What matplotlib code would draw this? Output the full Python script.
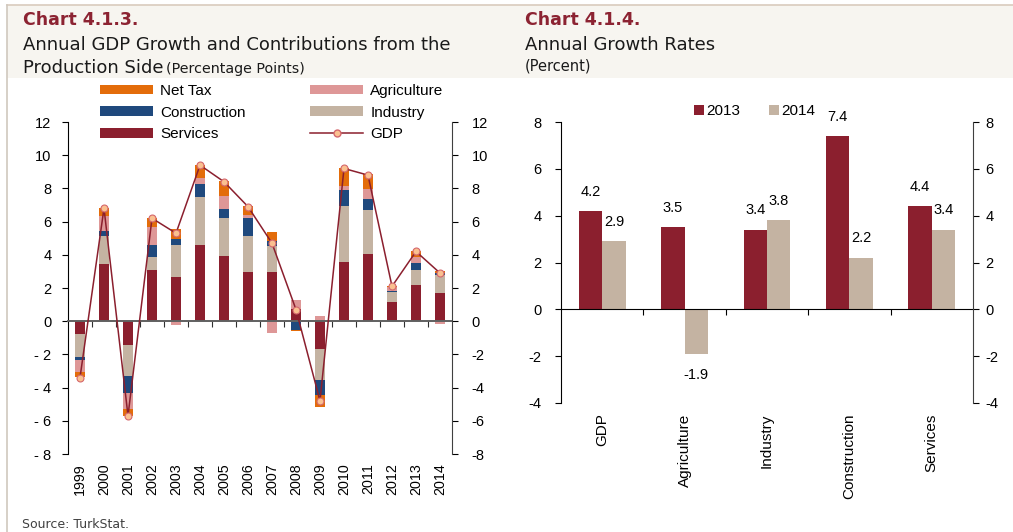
import matplotlib
matplotlib.use('Agg')
import matplotlib.pyplot as plt
from matplotlib.patches import Rectangle, Patch
from matplotlib.lines import Line2D
from matplotlib.ticker import FuncFormatter
import numpy as np

# ---- data: chart 4.1.3 (contributions to GDP growth, percentage points) ----
years = list(range(1999, 2015))
services = [-0.76, 3.42, -1.45, 3.11, 2.67, 4.62, 3.94, 2.96, 2.96, 0.76, -1.69, 3.54, 4.04, 1.17, 2.17, 1.67]
industry = [-1.41, 1.70, -1.87, 0.77, 1.91, 2.88, 2.29, 2.19, 1.56, -0.05, -1.87, 3.40, 2.65, 0.60, 0.94, 1.10]
construction = [-0.16, 0.31, -0.98, 0.70, 0.40, 0.76, 0.52, 1.08, 0.32, -0.45, -0.90, 0.96, 0.67, 0.03, 0.41, 0.14]
agriculture = [-0.74, 0.90, -0.98, 1.07, -0.25, 0.34, 0.79, 0.16, -0.70, 0.51, 0.32, 0.24, 0.58, 0.25, 0.36, -0.14]
net_tax = [-0.30, 0.47, -0.44, 0.54, 0.57, 0.83, 0.92, 0.55, 0.53, -0.07, -0.70, 1.06, 0.91, 0.10, 0.36, 0.12]
gdp = [-3.4, 6.8, -5.7, 6.2, 5.3, 9.4, 8.4, 6.9, 4.7, 0.7, -4.8, 9.2, 8.8, 2.1, 4.2, 2.9]

# ---- data: chart 4.1.4 (annual growth rates, percent) ----
sectors = ['GDP', 'Agriculture', 'Industry', 'Construction', 'Services']
growth_2013 = [4.2, 3.5, 3.4, 7.4, 4.4]
growth_2014 = [2.9, -1.9, 3.8, 2.2, 3.4]

# colours
MAROON = '#8B1F2E'
BEIGE = '#C4B3A2'
NAVY = '#1F497D'
PINK = '#DE9797'
ORANGE = '#E36C0A'
TITLE_RED = '#8C2332'

W, H = 1013, 532
def fx(px):
    return px / W
def fy(py):
    return 1 - py / H

plt.rcParams['font.family'] = ['Liberation Sans', 'DejaVu Sans']
plt.rcParams['axes.unicode_minus'] = False
fig = plt.figure(figsize=(W / 100, H / 100), dpi=100)
fig.patch.set_facecolor('white')

# title band and frame lines
fig.patches.append(Rectangle((fx(7), fy(78)), 1 - fx(7), fy(5) - fy(78),
                             transform=fig.transFigure, facecolor='#F7F5F0', edgecolor='none', zorder=0))
fig.add_artist(Line2D([fx(7), 1], [fy(5), fy(5)], color='#D9CBBD', lw=1.2))
fig.add_artist(Line2D([fx(7), fx(7)], [fy(5), 0], color='#D0C8BE', lw=1.2))

tfont = 'DejaVu Sans'
fig.text(fx(23), fy(20), 'Chart 4.1.3.', family=tfont, weight='bold', color=TITLE_RED, fontsize=12.5, va='center')
fig.text(fx(23), fy(45), 'Annual GDP Growth and Contributions from the', family=tfont, fontsize=13, color='#1a1a1a', va='center')
fig.text(fx(23), fy(68), 'Production Side', family=tfont, fontsize=13, color='#1a1a1a', va='center')
fig.text(fx(166), fy(69), '(Percentage Points)', family=tfont, fontsize=10.3, color='#1a1a1a', va='center')
fig.text(fx(525), fy(20), 'Chart 4.1.4.', family=tfont, weight='bold', color=TITLE_RED, fontsize=12.5, va='center')
fig.text(fx(525), fy(45), 'Annual Growth Rates', family=tfont, fontsize=13, color='#1a1a1a', va='center')
fig.text(fx(525), fy(66), '(Percent)', family=tfont, fontsize=10.5, color='#1a1a1a', va='center')
fig.text(fx(22), fy(524), 'Source: TurkStat.', family=tfont, fontsize=9, color='#404040', va='center')

# ================= left chart =================
ax = fig.add_axes([fx(68), fy(454), fx(452) - fx(68), fy(122) - fy(454)])
x = np.arange(len(years))
bw = 0.4
series = [(services, MAROON, 'Services'), (industry, BEIGE, 'Industry'),
          (construction, NAVY, 'Construction'), (agriculture, PINK, 'Agriculture'),
          (net_tax, ORANGE, 'Net Tax')]
pos_base = np.zeros(len(years))
neg_base = np.zeros(len(years))
handles = {}
for vals, col, name in series:
    v = np.array(vals)
    pos = np.where(v > 0, v, 0)
    neg = np.where(v < 0, v, 0)
    ax.bar(x, pos, bw, bottom=pos_base, color=col, zorder=2)
    ax.bar(x, neg, bw, bottom=neg_base, color=col, zorder=2)
    pos_base += pos
    neg_base += neg
    handles[name] = Patch(facecolor=col)

gdp_line, = ax.plot(x, gdp, color=MAROON, lw=1.1, marker='o', markersize=5,
                    markerfacecolor='#FAC090', markeredgecolor='#D4676C', markeredgewidth=0.8, zorder=4)

ax.set_xlim(-0.5, len(years) - 0.5)
ax.set_ylim(-8, 12)
ax.set_yticks(range(-8, 13, 2))
ax.yaxis.set_major_formatter(FuncFormatter(lambda v, p: ('- %d' % -v) if v < 0 else '%d' % v))
ax.spines['top'].set_visible(False)
ax.spines['right'].set_visible(False)
ax.spines['bottom'].set_position(('data', 0))
ax.spines['bottom'].set_color('#606060')
ax.spines['bottom'].set_linewidth(1.4)
ax.set_xticks(np.arange(0.5, len(years) - 1, 1.0))
ax.tick_params(axis='x', direction='out', length=4, color='#303030', labelbottom=False)
ax.tick_params(axis='y', direction='out', length=4, labelsize=10.5, pad=8)
for i, yr in enumerate(years):
    ax.text(i, -8.55, str(yr), rotation=90, ha='center', va='top', fontsize=10.3)

axr = ax.twinx()
axr.set_ylim(-8, 12)
axr.set_yticks(range(-8, 13, 2))
for s in ['top', 'left', 'bottom']:
    axr.spines[s].set_visible(False)
axr.spines['right'].set_color('#404040')
axr.tick_params(axis='y', direction='out', length=4, labelsize=10.5, pad=10)

leg_handles = [handles['Net Tax'], handles['Construction'], handles['Services'],
               handles['Agriculture'], handles['Industry'],
               Line2D([], [], color=MAROON, lw=1.1, marker='o', markersize=5,
                      markerfacecolor='#FAC090', markeredgecolor='#D4676C')]
leg_labels = ['Net Tax', 'Construction', 'Services', 'Agriculture', 'Industry', 'GDP']
fig.legend(leg_handles, leg_labels, ncol=2, loc='upper left', bbox_to_anchor=(fx(100), fy(84)),
           frameon=False, fontsize=11, handlelength=3.5, handleheight=0.6, handletextpad=0.45,
           labelspacing=0.5, columnspacing=4.2, borderpad=0, borderaxespad=0)

# ================= right chart =================
ax2 = fig.add_axes([fx(561), fy(403), fx(973) - fx(561), fy(122) - fy(403)])
xs = np.arange(len(sectors))
bw2 = 0.285
b13 = ax2.bar(xs - bw2 / 2, growth_2013, bw2, color=MAROON, label='2013', zorder=2)
b14 = ax2.bar(xs + bw2 / 2, growth_2014, bw2, color=BEIGE, label='2014', zorder=2)
for bars, vals in [(b13, growth_2013), (b14, growth_2014)]:
    for r, v in zip(bars, vals):
        off = 14 if v >= 0 else -15
        ax2.annotate('%.1f' % v, (r.get_x() + r.get_width() / 2, v), xytext=(0, off),
                     textcoords='offset points', ha='center', va='center', fontsize=10.5)

ax2.set_xlim(-0.5, len(sectors) - 0.5)
ax2.set_ylim(-4, 8)
ax2.set_yticks(range(-4, 9, 2))
ax2.spines['top'].set_visible(False)
ax2.spines['right'].set_visible(False)
ax2.spines['bottom'].set_position(('data', 0))
ax2.set_xticks(np.arange(0.5, len(sectors) - 1, 1.0))
ax2.tick_params(axis='x', direction='out', length=4, labelbottom=False)
ax2.tick_params(axis='y', direction='out', length=4, labelsize=10.5, pad=10)
for i, s in enumerate(sectors):
    ax2.text(i, -4.45, s, rotation=90, ha='center', va='top', fontsize=11)

ax2r = ax2.twinx()
ax2r.set_ylim(-4, 8)
ax2r.set_yticks(range(-4, 9, 2))
for s in ['top', 'left', 'bottom']:
    ax2r.spines[s].set_visible(False)
ax2r.spines['right'].set_color('#404040')
ax2r.tick_params(axis='y', direction='out', length=4, labelsize=10.5, pad=5)

fig.legend([Patch(facecolor=MAROON), Patch(facecolor=BEIGE)], ['2013', '2014'], ncol=2,
           loc='upper left', bbox_to_anchor=(fx(694), fy(104)), frameon=False, fontsize=11,
           handlelength=0.65, handleheight=0.65, handletextpad=0.15, columnspacing=1.9,
           borderpad=0, borderaxespad=0)

fig.savefig('out.png', dpi=100)
